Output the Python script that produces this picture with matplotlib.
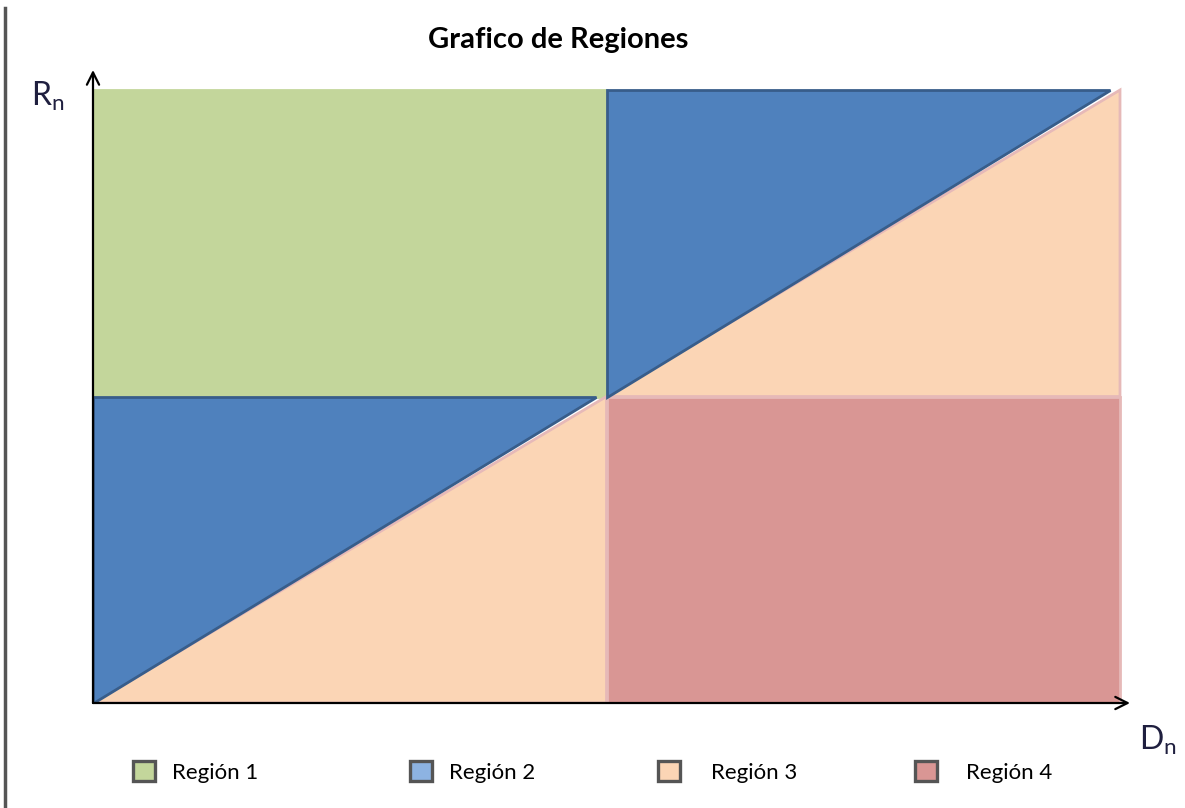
import matplotlib
matplotlib.use("Agg")
from matplotlib import pyplot as plt
from matplotlib.patches import Polygon, Patch
from matplotlib.lines import Line2D

plt.rcParams['font.family'] = ['Lato', 'DejaVu Sans']
plt.rcParams['mathtext.fontset'] = 'custom'
plt.rcParams['mathtext.rm'] = 'Lato'

# region data (Dn, Rn)
region_names = ["Región 1", "Región 2", "Región 3", "Región 4"]
region_colors = ["#C3D69B", "#4F81BD", "#FBD5B5", "#D99694"]
region_edges = ["#C3D69B", "#385D8A", "#E6B9B8", "#E6B9B8"]
legend_colors = ["#C3D69B", "#8DB3E2", "#FBD5B5", "#D99694"]

region1 = [(0, 1), (0, 2), (1, 2), (1, 1)]
region2_top = [(1, 1), (1, 2), (1.98, 2)]
region2_bottom = [(0, 0), (0, 1), (0.98, 1)]
region3_top = [(1, 1), (2, 2), (2, 1)]
region3_bottom = [(0, 0), (1, 1), (1, 0)]
region4 = [(1, 0), (1, 1), (2, 1), (2, 0)]

polys = [
    (region1, 0),
    (region3_top, 2),
    (region3_bottom, 2),
    (region4, 3),
    (region2_top, 1),
    (region2_bottom, 1),
]

W, H = 1185, 808
fig = plt.figure(figsize=(W / 100, H / 100), dpi=100)

# axes area in pixels: x 93..1130, y 70..703
x0, x1 = 93, 1132
y0, y1 = 703, 68
ax = fig.add_axes([x0 / W, 1 - y0 / H, (x1 - x0) / W, (y0 - y1) / H])
px_x = (1120 - 93) / 2.0
px_y = (703 - 90) / 2.0
ax.set_xlim(0, (x1 - x0) / px_x)
ax.set_ylim(0, (y0 - y1) / px_y)
ax.axis('off')

for verts, k in polys:
    ax.add_patch(Polygon(verts, closed=True, facecolor=region_colors[k],
                         edgecolor=region_edges[k], lw=2, joinstyle='miter'))

# axes arrows
xmax = (1130 - x0) / px_x
ymax = (703 - 70) / px_y
ax.annotate("", xy=(xmax, 0), xytext=(0, 0),
            arrowprops=dict(arrowstyle="->", lw=1.6, color="black",
                            mutation_scale=22, shrinkA=0, shrinkB=0))
ax.annotate("", xy=(0, ymax), xytext=(0, 0),
            arrowprops=dict(arrowstyle="->", lw=1.6, color="black",
                            mutation_scale=22, shrinkA=0, shrinkB=0))

# labels
fig.text(558 / W, 1 - 40 / H, "Grafico de Regiones", ha='center', va='center',
         fontsize=21, fontweight='bold')
fig.text(48 / W, 1 - 96 / H, r"$\mathregular{R_n}$", ha='center', va='center',
         fontsize=23, color="#1F1F3F")
fig.text(1158 / W, 1 - 740 / H, r"$\mathregular{D_n}$", ha='center', va='center',
         fontsize=23, color="#1F1F3F")

# left border
fig.add_artist(Line2D([5 / W, 5 / W], [0, 1 - 8 / H], color="#555555", lw=2.5))

# legend, one entry each so the spacing follows the reference
legend_x = [133, 410, 658, 915]
legend_pad = [0.75, 0.75, 1.4, 1.3]
for name, col, lx, pad in zip(region_names, legend_colors, legend_x, legend_pad):
    h = Patch(facecolor=col, edgecolor="#555555", lw=2.4)
    fig.legend([h], [name], loc='center left',
               bbox_to_anchor=(lx / W, 1 - 772 / H), frameon=False,
               fontsize=16, handlelength=1.0, handleheight=1.0,
               handletextpad=pad, borderpad=0, borderaxespad=0)

fig.savefig("out.png", dpi=100)
